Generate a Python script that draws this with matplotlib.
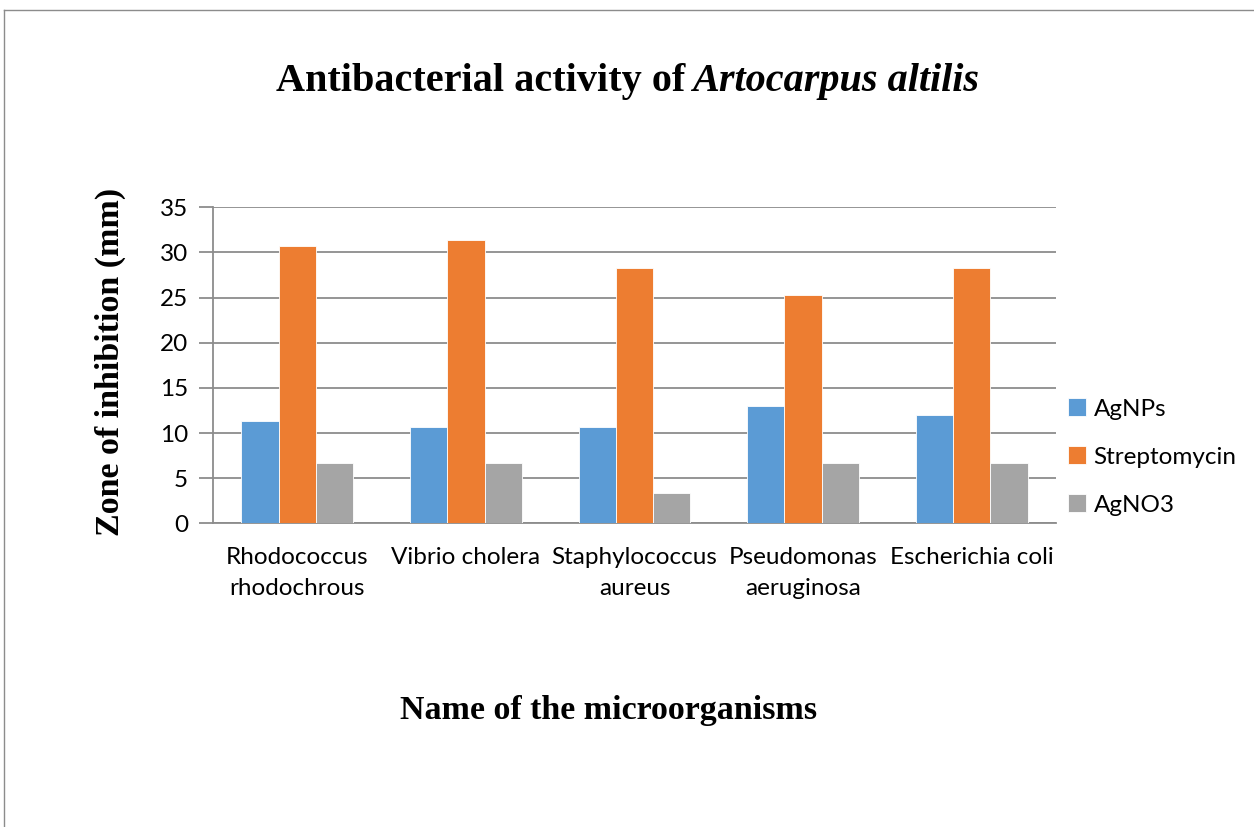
import numpy as np
import matplotlib
matplotlib.use("Agg")
from matplotlib import pyplot as plt
from matplotlib.lines import Line2D

# data
organisms = ["Rhodococcus\nrhodochrous", "Vibrio cholera", "Staphylococcus\naureus",
             "Pseudomonas\naeruginosa", "Escherichia coli"]
agnps = [11.33, 10.67, 10.67, 13.0, 12.0]
streptomycin = [30.67, 31.33, 28.33, 25.33, 28.33]
agno3 = [6.67, 6.67, 3.33, 6.67, 6.67]

SERIES = [("AgNPs", agnps, "#5B9BD5"),
          ("Streptomycin", streptomycin, "#ED7D31"),
          ("AgNO3", agno3, "#A5A5A5")]

SANS = ["Lato", "DejaVu Sans"]
SERIF = ["Liberation Serif", "DejaVu Serif"]

fig = plt.figure(figsize=(12.54, 8.27), dpi=100)
ax = fig.add_axes([213 / 1254, 1 - 523.3 / 827, (1056 - 213) / 1254, (523.3 - 207.3) / 827])

x = np.arange(len(organisms))
WIDTH = 0.221
for i, (name, vals, color) in enumerate(SERIES):
    ax.bar(x + (i - 1) * WIDTH, vals, width=WIDTH, color=color, label=name,
           edgecolor="white", linewidth=0.6, zorder=3)

ax.set_xlim(-0.5, len(organisms) - 0.5)
ax.set_ylim(0, 35)
ax.set_yticks(np.arange(0, 36, 5))
ax.grid(axis="y", color="#8c8c8c", linewidth=1.3, zorder=0)
ax.set_axisbelow(True)

for side in ["top", "right"]:
    ax.spines[side].set_visible(False)
ax.spines["left"].set_color("#8c8c8c")
ax.spines["left"].set_linewidth(1.3)
ax.spines["bottom"].set_color("#8c8c8c")
ax.spines["bottom"].set_linewidth(1.3)
ax.tick_params(axis="y", length=10, color="#8c8c8c", width=1.3, pad=8)
ax.tick_params(axis="x", length=0, pad=17)

ax.set_xticks(x)
ax.set_xticklabels(organisms, fontsize=17.5, family=SANS, linespacing=1.62)
for lbl in ax.get_yticklabels():
    lbl.set_fontsize(17.5)
    lbl.set_family(SANS)

# title in two parts: roman bold + bold italic
fig.text(685 / 1254, 1 - 82 / 827, "Antibacterial activity of", ha="right", va="center",
         fontsize=29, fontweight="bold", family=SERIF)
fig.text(692 / 1254, 1 - 82 / 827, "Artocarpus altilis", ha="left", va="center",
         fontsize=29, fontweight="bold", fontstyle="italic", family=SERIF)

fig.text(110 / 1254, 1 - 362 / 827, "Zone of inhibition (mm)", rotation=90, ha="center",
         va="center", fontsize=24.5, fontweight="bold", family=SERIF)
fig.text(609 / 1254, 1 - 711 / 827, "Name of the microorganisms", ha="center", va="center",
         fontsize=24.5, fontweight="bold", family=SERIF)

leg = ax.legend(loc="center left", bbox_to_anchor=(1068 / 1254, 1 - 457 / 827),
                bbox_transform=fig.transFigure, frameon=False,
                prop={"family": SANS, "size": 17.5}, handlelength=0.75, handleheight=0.75,
                handletextpad=0.3, labelspacing=1.1, borderpad=0, borderaxespad=0)

# outer frame lines (top and left) like the screenshot
fig.add_artist(Line2D([4 / 1254, 1], [1 - 10 / 827, 1 - 10 / 827], color="#8c8c8c",
                      linewidth=1, transform=fig.transFigure))
fig.add_artist(Line2D([4 / 1254, 4 / 1254], [0, 1 - 10 / 827], color="#8c8c8c",
                      linewidth=1, transform=fig.transFigure))

plt.savefig("out.png", dpi=100)
